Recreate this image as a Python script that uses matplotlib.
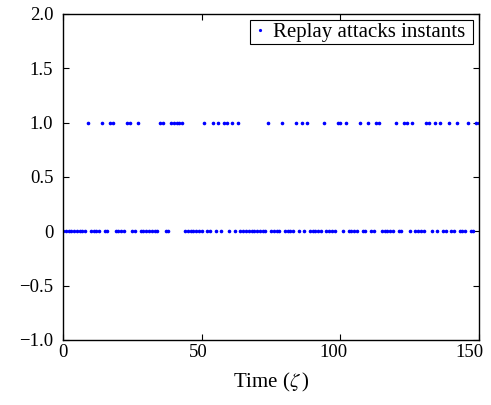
import numpy as np
import matplotlib
matplotlib.use('Agg')
import matplotlib.pyplot as plt
import matplotlib.transforms as mtransforms

plt.rcParams['font.family'] = ['Liberation Serif', 'DejaVu Serif']
plt.rcParams['mathtext.fontset'] = 'stix'

# time instants and attack indicator (1 = replay attack, 0 = none)
t = list(range(0, 151))
attack = [0, 0, 0, 0, 0, 0, 0, 0, 0, 1,
          0, 0, 0, 0, 1, 0, 0, 1, 1, 0,
          0, 0, 0, 1, 1, 0, 0, 1, 0, 0,
          0, 0, 0, 0, 0, 1, 1, 0, 0, 1,
          1, 1, 1, 1, 0, 0, 0, 0, 0, 0,
          0, 1, 0, 0, 1, 0, 1, 0, 1, 1,
          0, 1, 0, 1, 0, 0, 0, 0, 0, 0,
          0, 0, 0, 0, 1, 0, 0, 0, 0, 1,
          0, 0, 0, 0, 1, 0, 1, 0, 1, 0,
          0, 0, 0, 0, 1, 0, 0, 0, 0, 1,
          1, 0, 1, 0, 0, 0, 0, 1, 0, 0,
          1, 0, 0, 1, 1, 0, 0, 0, 0, 0,
          1, 0, 0, 1, 1, 0, 1, 0, 0, 0,
          0, 1, 1, 0, 1, 0, 1, 0, 0, 1,
          0, 0, 1, 0, 0, 0, 1, 0, 0, 1,
          1]

xticks = [0, 50, 100, 150]
yticks = [-1.0, -0.5, 0.0, 0.5, 1.0, 1.5, 2.0]
ytick_labels = ['\u22121.0', '\u22120.5', '0', '0.5', '1.0', '1.5', '2.0']

fig = plt.figure(figsize=(4.91, 4.05), dpi=100)
ax = fig.add_axes([0.1283, 0.1605, 0.8473, 0.805])

ax.plot(t, attack, '.', color='#0000ff', markersize=3.2, label='Replay attacks instants ')

ax.set_xlim(0, 150)
ax.set_ylim(-1, 2)
ax.set_xticks(xticks)
ax.set_yticks(yticks)
ax.set_yticklabels(ytick_labels)
ax.tick_params(direction='in', top=True, right=True, length=4, width=0.8)
ax.tick_params(axis='y', pad=7, labelsize=13.5)
ax.tick_params(axis='x', pad=3, labelsize=13.5)
for s in ax.spines.values():
    s.set_linewidth(1.0)
ax.set_xlabel(r'Time ($\zeta\,$)', fontsize=15, labelpad=7)

leg = ax.legend(loc='upper right', fontsize=15, fancybox=False, framealpha=1,
                edgecolor='black', handlelength=0.7, handletextpad=0.3,
                borderpad=0.1, borderaxespad=0.3, markerscale=0.8)
leg.get_frame().set_linewidth(0.8)

# x tick labels in the original drift slightly left towards the right end
for lab, v in zip(ax.get_xticklabels(), xticks):
    dx = -0.065 * v / 100.0
    lab.set_transform(lab.get_transform() + mtransforms.ScaledTranslation(dx, 0, fig.dpi_scale_trans))

fig.savefig('out.png', dpi=100)
